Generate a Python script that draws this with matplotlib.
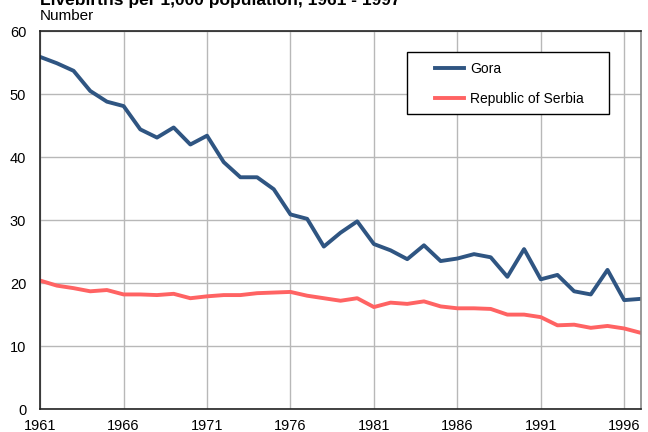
import matplotlib
matplotlib.use("Agg")
import matplotlib.pyplot as plt
from matplotlib.patches import Rectangle

years = list(range(1961, 1998))

gora = [55.9, 54.9, 53.7, 50.5, 48.8, 48.1, 44.4, 43.1, 44.7, 42.0,
        43.4, 39.2, 36.8, 36.8, 34.9, 30.9, 30.2, 25.8, 28.0, 29.8,
        26.2, 25.2, 23.8, 26.0, 23.5, 23.9, 24.6, 24.1, 21.0, 25.4,
        20.6, 21.3, 18.7, 18.2, 22.1, 17.3, 17.5]

serbia = [20.4, 19.6, 19.2, 18.7, 18.9, 18.2, 18.2, 18.1, 18.3, 17.6,
          17.9, 18.1, 18.1, 18.4, 18.5, 18.6, 18.0, 17.6, 17.2, 17.6,
          16.2, 16.9, 16.7, 17.1, 16.3, 16.0, 16.0, 15.9, 15.0, 15.0,
          14.6, 13.3, 13.4, 12.9, 13.2, 12.8, 12.1]

x_ticks = [1961, 1966, 1971, 1976, 1981, 1986, 1991, 1996]
y_ticks = [0, 10, 20, 30, 40, 50, 60]

plt.rcParams['font.family'] = ['Liberation Sans', 'DejaVu Sans']

fig = plt.figure(figsize=(6.48, 4.32), dpi=100)
ax = fig.add_axes([0.062, 0.053, 0.927, 0.875])

ax.plot(years, gora, color='#2f5582', lw=2.8, label='Gora')
ax.plot(years, serbia, color='#ff6363', lw=2.8, label='Republic of Serbia')

ax.set_xlim(1961, 1997)
ax.set_ylim(0, 60)
ax.set_xticks(x_ticks)
ax.set_yticks(y_ticks)
ax.tick_params(length=0, labelsize=10.5)
ax.tick_params(axis='y', pad=10)
ax.tick_params(axis='x', pad=7)
ax.grid(True, color='#b8b8b8', lw=1)
ax.set_axisbelow(True)
for s in ax.spines.values():
    s.set_color('#222222')
    s.set_linewidth(1.2)
ax.spines['right'].set_color('#888888')

# legend box drawn by hand so the padding matches
ax.add_patch(Rectangle((0.611, 0.780), 0.336, 0.164, transform=ax.transAxes,
                       facecolor='white', edgecolor='black', lw=1.0,
                       zorder=5))
leg = ax.legend(loc='upper left', bbox_to_anchor=(0.657, 0.919),
                fontsize=10, frameon=False, handlelength=2.1,
                labelspacing=1.15, borderpad=0, borderaxespad=0,
                handletextpad=0.45)
leg.set_zorder(6)

fig.text(0.062, 1.0, "Livebirths per 1,000 population, 1961 - 1997",
         fontsize=12.5, fontweight='bold', va='center', ha='left')
fig.text(0.062, 0.963, "Number", fontsize=11, va='center', ha='left')

fig.savefig('out.png', dpi=100)
